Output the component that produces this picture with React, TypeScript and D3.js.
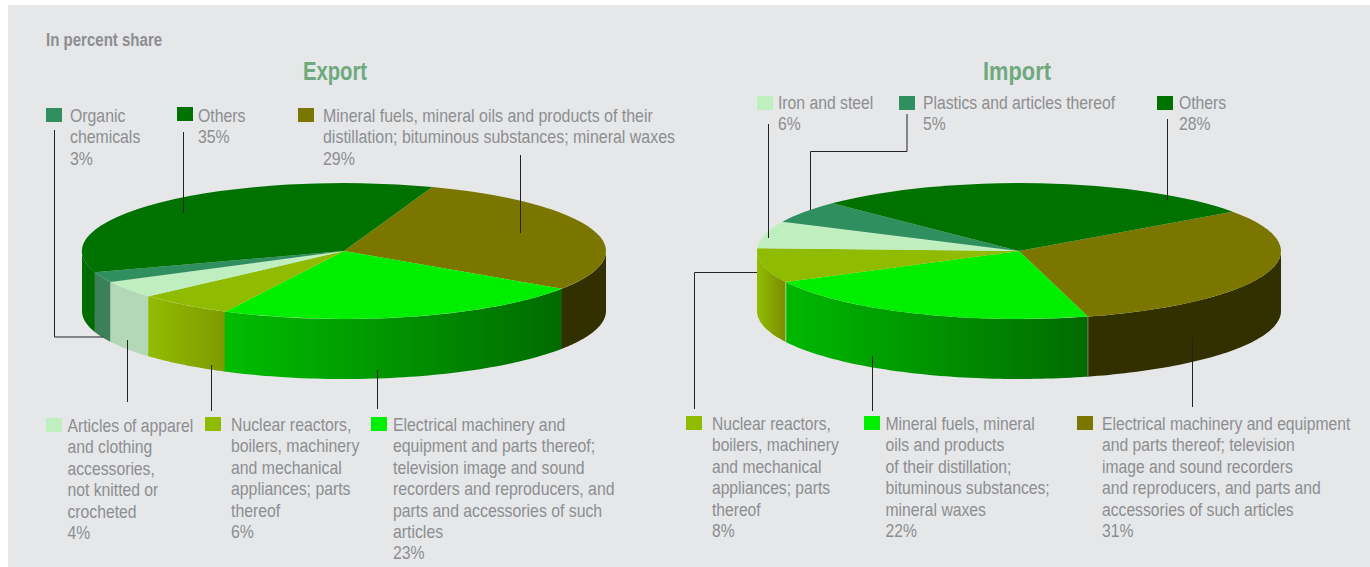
import React from "react";
import * as d3 from "d3";

const exportNames = ["Mineral fuels", "Electrical machinery", "Nuclear reactors", "Articles of apparel", "Organic chemicals", "Others"];
const exportValues = [28.9, 23.1, 5.9, 4.1, 2.5, 35.5];
const importNames = ["Electrical machinery", "Mineral fuels", "Nuclear reactors", "Iron and steel", "Plastics", "Others"];
const importValues = [30.6, 21.7, 8.2, 6.4, 5.3, 27.8];

const topColors = ["#7a7600", "#00ee00", "#8fbb00", "#bfeebf", "#2f8f5f", "#007200"];
const exportSide: [string, string][] = [["#333000", "#333000"], ["#00bd00", "#006b00"], ["#92bc00", "#7f9a00"], ["#b2d8b8", "#b2d8b8"], ["#3b8059", "#3b8059"], ["#006c00", "#006c00"]];
const importSide: [string, string][] = [["#333000", "#333000"], ["#00b800", "#006b00"], ["#92bc00", "#7a8c00"], ["#bfeebf", "#bfeebf"], ["#2f8f5f", "#2f8f5f"], ["#006c00", "#006c00"]];
const importSeams = ["#6f9a6f", "#c0cf90"];

const RX = 262, RY = 68, DEPTH = 60;
const deg = Math.PI / 180;

type Legend = { color: string; x: number; y: number; tx: number; base: number; sx: number; lines: string[] };
const legends: Legend[] = [
  { color: "#2f8f5f", x: 46, y: 108, tx: 70, base: 122, sx: 0.855, lines: ["Organic", "chemicals", "3%"] },
  { color: "#007200", x: 177, y: 107, tx: 198, base: 122, sx: 0.855, lines: ["Others", "35%"] },
  { color: "#7a7600", x: 298, y: 108, tx: 323, base: 122, sx: 0.863, lines: ["Mineral fuels, mineral oils and products of their", "distillation; bituminous substances; mineral waxes", "29%"] },
  { color: "#bfeebf", x: 46, y: 418, tx: 67.5, base: 432, sx: 0.85, lines: ["Articles of apparel", "and clothing", "accessories,", "not knitted or", "crocheted", "4%"] },
  { color: "#8fbb00", x: 205, y: 417, tx: 231, base: 431, sx: 0.855, lines: ["Nuclear reactors,", "boilers, machinery", "and mechanical", "appliances; parts", "thereof", "6%"] },
  { color: "#00ee00", x: 371, y: 417, tx: 393, base: 431, sx: 0.855, lines: ["Electrical machinery and", "equipment and parts thereof;", "television image and sound", "recorders and reproducers, and", "parts and accessories of such", "articles", "23%"] },
  { color: "#bfeebf", x: 757, y: 96, tx: 778, base: 109, sx: 0.85, lines: ["Iron and steel", "6%"] },
  { color: "#2f8f5f", x: 899, y: 96, tx: 923, base: 109, sx: 0.85, lines: ["Plastics and articles thereof", "5%"] },
  { color: "#007200", x: 1157, y: 96, tx: 1179, base: 109, sx: 0.85, lines: ["Others", "28%"] },
  { color: "#8fbb00", x: 686, y: 416, tx: 712, base: 430, sx: 0.845, lines: ["Nuclear reactors,", "boilers, machinery", "and mechanical", "appliances; parts", "thereof", "8%"] },
  { color: "#00ee00", x: 864, y: 416, tx: 885.5, base: 430, sx: 0.85, lines: ["Mineral fuels, mineral", "oils and products", "of their distillation;", "bituminous substances;", "mineral waxes", "22%"] },
  { color: "#7a7600", x: 1077, y: 416, tx: 1102, base: 430, sx: 0.848, lines: ["Electrical machinery and equipment", "and parts thereof; television", "image and sound recorders", "and reproducers, and parts and", "accessories of such articles", "31%"] },
];

const leaders: string[] = [
  "M54.5 130V337H103",
  "M183.5 132V213",
  "M520.5 155V233",
  "M127.5 340V402",
  "M211.5 365V411",
  "M377.5 370V409",
  "M768.5 124V238",
  "M907 114V151.5H810.5V210",
  "M1167.5 119V200.5",
  "M694.5 409V272.5H757",
  "M872.5 356V411",
  "M1192.5 337V407",
];

function Pie({ id, cx, cy, values, start, top, side, seams }: { id: string; cx: number; cy: number; values: number[]; start: number; top: string[]; side: [string, string][]; seams?: string[] }) {
  const pie = d3.pie<number>().sort(null).startAngle(start * deg).endAngle((start + 360) * deg);
  const slices = pie(values);
  const arc = d3.arc<d3.PieArcDatum<number>>().innerRadius(0).outerRadius(1);
  const x = d3.scaleLinear().domain([-1, 1]).range([cx - RX, cx + RX]);
  const y = d3.scaleLinear().domain([-1, 1]).range([cy - RY, cy + RY]);
  const walls: React.ReactNode[] = [];
  const defs: React.ReactNode[] = [];
  const overlap = 0.2 * deg;
  slices.forEach((s, i) => {
    [0, 2 * Math.PI].forEach((shift) => {
      const a0 = Math.max(s.startAngle - shift, 90 * deg);
      const a1 = Math.min(s.endAngle - shift, 270 * deg);
      if (a1 <= a0) return;
      const end = Math.min(a1 + overlap, 270 * deg);
      const pts = d3.range(0, 61).map((k) => a0 + ((end - a0) * k) / 60);
      const upper = pts.map((a) => [x(Math.sin(a)), y(-Math.cos(a))] as [number, number]);
      const lower = upper.slice().reverse().map(([px, py]) => [px, py + DEPTH] as [number, number]);
      const d = d3.line()([...upper, ...lower]) + "Z";
      const gid = `${id}-g${i}`;
      const xs = upper.map((p) => p[0]);
      defs.push(
        <linearGradient key={gid} id={gid} gradientUnits="userSpaceOnUse" x1={d3.min(xs)} x2={d3.max(xs)} y1={0} y2={0}>
          <stop offset="0" stopColor={side[i][0]} />
          <stop offset="1" stopColor={side[i][1]} />
        </linearGradient>
      );
      walls.push(<path key={`${gid}-${shift}`} d={d} fill={`url(#${gid})`} />);
    });
  });
  return (
    <g>
      <defs>{defs}</defs>
      {walls.slice().reverse()}
      {seams &&
        seams.map((c, i) => {
          const a = slices[i].endAngle;
          const sx = x(Math.sin(a));
          const sy = y(-Math.cos(a));
          return <line key={i} x1={sx} x2={sx} y1={sy} y2={sy + DEPTH} stroke={c} strokeWidth={1} />;
        })}
      <g transform={`translate(${cx},${cy}) scale(${RX},${RY})`}>
        {slices.map((s, i) => (
          <path key={i} d={arc(s) ?? ""} fill={top[i]} />
        ))}
      </g>
    </g>
  );
}

const font = '"Liberation Sans", sans-serif';
const grey = "#8c8e90";

export default function App() {
  return (
    <svg width={1370} height={567} style={{ position: "absolute", left: 0, top: 0 }} fontFamily={font}>
      <rect x={8} y={5} width={1362} height={562} fill="#e6e7e9" />
      <text transform="translate(46,45.5) scale(0.835,1)" fontSize={18} fontWeight={700} fill={grey}>In percent share</text>
      <text transform="translate(335,80) scale(0.78,1)" fontSize={26} fontWeight={700} fill="#6fa97e" textAnchor="middle">Export</text>
      <text transform="translate(1017,80) scale(0.84,1)" fontSize={26} fontWeight={700} fill="#6fa97e" textAnchor="middle">Import</text>
      <Pie id="exp" cx={344} cy={251} values={exportValues} start={19.7} top={topColors} side={exportSide} />
      <Pie id="imp" cx={1019} cy={251} values={importValues} start={54.6} top={topColors} side={importSide} seams={importSeams} />
      {leaders.map((d, i) => (
        <path key={i} d={d} fill="none" stroke="#222" strokeWidth={1} />
      ))}
      {legends.map((l, i) => (
        <g key={i}>
          <rect x={l.x} y={l.y} width={16} height={14} fill={l.color} />
          {l.lines.map((t, k) => (
            <text key={k} transform={`translate(${l.tx},${l.base + k * 21.4}) scale(${l.sx},1)`} fontSize={18.5} fill={grey}>{t}</text>
          ))}
        </g>
      ))}
    </svg>
  );
}
